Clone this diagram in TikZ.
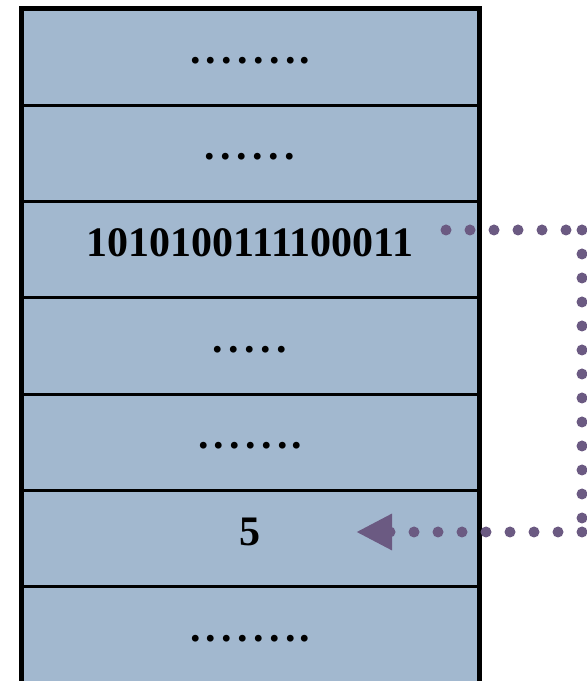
\documentclass[tikz,border=0pt]{standalone}
\usepackage{fontspec}
\setmainfont{Liberation Serif}
\usetikzlibrary{arrows.meta}
\definecolor{cellfill}{HTML}{A2B8CF}
\definecolor{linkcol}{HTML}{6B5A82}
\newcommand\pd{.\kern5.5pt}
\newcommand\pe{.\kern3pt}
\begin{document}
\begin{tikzpicture}[x=1pt,y=1pt,
  cell/.style={draw=black, line width=3pt, fill=cellfill, minimum width=458pt,
    minimum height=96.3pt, inner sep=0pt, outer sep=0pt,
    font=\fontsize{42}{50}\selectfont\bfseries, text height=13pt, text depth=0pt},
  link/.style={draw=linkcol, line width=11pt, line cap=round, dash pattern=on 0pt off 24pt}]
\useasboundingbox (0,0) rectangle (587,681);
\node[cell] (r1) at (250,623.85) {\pd\pd\pd\pd\pd\pd\pe.};
\node[cell] (r2) at (250,527.55) {\pd\pd\pd\pd\pd.};
\node[cell] (r3) at (250,431.25) {1010100111100011};
\node[cell] (r4) at (250,334.95) {\pd\pd\pd\pd.};
\node[cell] (r5) at (250,238.65) {\pd\pd\pd\pd\pd\pe.};
\node[cell] (r6) at (250,142.35) {5};
\node[cell] (r7) at (250,46.05) {\pd\pd\pd\pd\pd\pd\pe.};
\draw[line width=5pt] (r1.north west) rectangle (r7.south east);
\coordinate (s) at (446,451);
\coordinate (c1) at (582,451);
\coordinate (c2) at (582,149);
\coordinate (e) at (356,149);
\draw[link] (s) -- (c1);
\draw[link] (c1) -- (c2);
\draw[link, -{Triangle[length=36pt,width=34pt]}] (c2) -- (e);
\end{tikzpicture}
\end{document}
